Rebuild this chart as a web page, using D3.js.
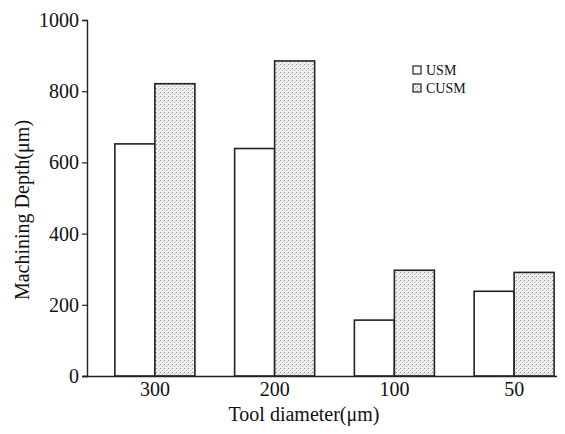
<!DOCTYPE html>
<html><head><meta charset="utf-8">
<script src="https://cdn.jsdelivr.net/npm/d3@7"></script>
<style>body{margin:0;background:#fff}svg{display:block}text{font-family:"Liberation Serif","Times New Roman",serif;fill:#111}</style>
</head><body>
<script>
const categories = ["300", "200", "100", "50"];
const seriesNames = ["USM", "CUSM"];
const usm = [652, 639, 157, 238];
const cusm = [821, 885, 297, 291];
const yTicks = [0, 200, 400, 600, 800, 1000];

const W = 565, H = 434;
const svg = d3.select("body").append("svg").attr("width", W).attr("height", H);
const defs = svg.append("defs");
const pat = defs.append("pattern").attr("id", "stip").attr("patternUnits", "userSpaceOnUse")
  .attr("width", 4).attr("height", 4);
pat.append("rect").attr("width", 4).attr("height", 4).attr("fill", "#f0f0f0");
pat.append("rect").attr("x", 0).attr("y", 0).attr("width", 1).attr("height", 1).attr("fill", "#8a8a8a");
pat.append("rect").attr("x", 2).attr("y", 2).attr("width", 1).attr("height", 1).attr("fill", "#b4b4b4");
pat.append("rect").attr("x", 3).attr("y", 1).attr("width", 1).attr("height", 1).attr("fill", "#cccccc");

const y = d3.scaleLinear().domain([0, 1000]).range([376, 20]);
const x = d3.scaleBand().domain(categories).range([95, 574]);
const bw = x.bandwidth();
const xs = d3.scaleBand().domain(seriesNames).range([bw / 2 - 40, bw / 2 + 40]);
const fills = {USM: "#ffffff", CUSM: "url(#stip)"};

const data = categories.map((c, i) => ({c, USM: usm[i], CUSM: cusm[i]}));
const g = svg.append("g");
data.forEach(d => {
  seriesNames.forEach(s => {
    g.append("rect")
      .attr("x", x(d.c) + xs(s))
      .attr("y", y(d[s]))
      .attr("width", xs.bandwidth())
      .attr("height", y(0) - y(d[s]))
      .attr("fill", fills[s])
      .attr("stroke", "#222")
      .attr("stroke-width", 1.6);
  });
});

// y axis
const yAx = svg.append("g").attr("transform", "translate(87,0)")
  .call(d3.axisLeft(y).tickValues(yTicks).tickSize(5).tickPadding(3).tickFormat(d3.format("d")));
yAx.attr("font-family", null);
yAx.select(".domain").attr("stroke", "#222").attr("stroke-width", 1.4);
yAx.selectAll(".tick line").attr("stroke", "#222").attr("stroke-width", 1.2);
yAx.selectAll("text").attr("font-size", 20);

// x axis
const xAx = svg.append("g").attr("transform", "translate(0,376)")
  .call(d3.axisBottom(x).tickSize(0).tickPadding(6));
xAx.attr("font-family", null);
xAx.select(".domain").attr("d", "M83,0.5H557").attr("stroke", "#222").attr("stroke-width", 1.6);
xAx.selectAll("text").attr("font-size", 20);

// titles
svg.append("text").attr("x", 304).attr("y", 421).attr("text-anchor", "middle")
  .attr("font-size", 20).text("Tool diameter(μm)");
svg.append("text").attr("transform", "translate(29,210) rotate(-90)").attr("text-anchor", "middle")
  .attr("font-size", 20).text("Machining Depth(μm)");

// legend
const leg = svg.append("g").attr("transform", "translate(413,66)");
seriesNames.forEach((s, i) => {
  leg.append("rect").attr("x", 0).attr("y", i * 18).attr("width", 8).attr("height", 8)
    .attr("fill", fills[s]).attr("stroke", "#222").attr("stroke-width", 1.2);
  leg.append("text").attr("x", 13).attr("y", i * 18 + 8.5).attr("font-size", 14).text(s);
});
</script>
</body></html>
